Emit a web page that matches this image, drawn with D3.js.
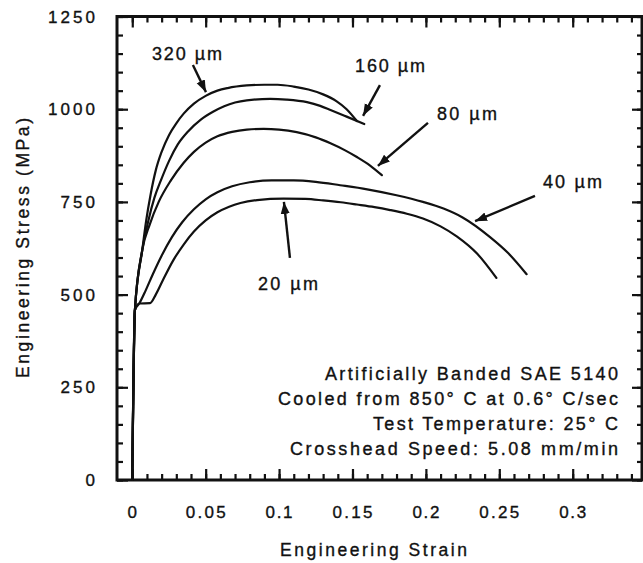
<!DOCTYPE html>
<html>
<head>
<meta charset="utf-8">
<script src="https://cdn.jsdelivr.net/npm/d3@7/dist/d3.min.js"></script>
<style>
  html, body { margin: 0; padding: 0; background: #fff; }
  svg { display: block; }
  text { font-family: "Liberation Sans", Arial, Helvetica, sans-serif; fill: #111; stroke: #111; stroke-width: 0.35px; }
</style>
</head>
<body>
<svg id="chart" width="643" height="563"></svg>
<script>
// ---------------- data ----------------
const strain320 = [0, 0.0018, 0.0068, 0.0095, 0.0125, 0.016, 0.020, 0.025, 0.030, 0.035, 0.042, 0.050, 0.058, 0.065, 0.078, 0.090, 0.099, 0.110, 0.120, 0.130, 0.139, 0.146, 0.153];
const stress320 = [0, 458, 620, 700, 770, 835, 885, 930, 962, 988, 1015, 1036, 1050, 1057, 1064, 1066, 1066, 1061, 1053, 1040, 1022, 1000, 968];

const strain160 = [0, 0.0018, 0.0068, 0.011, 0.015, 0.0195, 0.025, 0.031, 0.038, 0.0467, 0.055, 0.0626, 0.070, 0.078, 0.094, 0.105, 0.119, 0.128, 0.135, 0.146, 0.158];
const stress160 = [0, 458, 620, 700, 760, 808, 860, 905, 940, 972, 993, 1008, 1018, 1024, 1028, 1026, 1019, 1009, 998, 980, 960];

const strain80 = [0, 0.0018, 0.0068, 0.012, 0.018, 0.0263, 0.0349, 0.042, 0.050, 0.058, 0.068, 0.078, 0.0895, 0.100, 0.112, 0.125, 0.135, 0.145, 0.153, 0.162, 0.170];
const stress80 = [0, 458, 620, 690, 750, 808, 855, 885, 910, 927, 939, 945, 947, 945, 938, 924, 908, 889, 871, 848, 822];

const strain40 = [0, 0.0018, 0.0048, 0.009, 0.014, 0.020, 0.027, 0.034, 0.042, 0.050, 0.058, 0.068, 0.080, 0.095, 0.110, 0.125, 0.1416, 0.160, 0.180, 0.198, 0.212, 0.225, 0.2437, 0.256, 0.2686];
const stress40 = [0, 458, 476, 510, 555, 605, 655, 695, 730, 757, 776, 792, 803, 808, 808, 804, 795, 784, 768, 750, 732, 708, 655, 612, 555];

const strain20 = [0, 0.0018, 0.0048, 0.0121, 0.016, 0.021, 0.0283, 0.035, 0.042, 0.050, 0.058, 0.066, 0.0737, 0.085, 0.103, 0.118, 0.130, 0.142, 0.153, 0.165, 0.1757, 0.187, 0.198, 0.210, 0.221, 0.235, 0.248];
const stress20 = [0, 458, 476, 477, 500, 540, 595, 635, 670, 700, 722, 737, 747, 755, 759, 758, 754, 749, 743, 736, 728, 718, 705, 684, 657, 610, 545];

const xTickValues = [0, 0.05, 0.1, 0.15, 0.2, 0.25, 0.3];
const xTickLabels = ["0", "0.05", "0.1", "0.15", "0.2", "0.25", "0.3"];
const yTickValues = [0, 250, 500, 750, 1000, 1250];
const yTickLabels = ["0", "250", "500", "750", "1000", "1250"];

// annotation labels with arrows (positions in data units)
const annLabels   = ["320 µm", "160 µm", "80 µm", "40 µm", "20 µm"];
const annTextX    = [0.0134, 0.1517, 0.2075, 0.2797, 0.0856];
const annTextY    = [1133, 1100, 971, 787, 512];
const annFromX    = [0.0413, 0.1687, 0.2014, 0.2743, 0.1074];
const annFromY    = [1119, 1065, 963, 766, 599];
const annToX      = [0.0502, 0.1572, 0.1673, 0.2335, 0.1033];
const annToY      = [1046, 982, 847, 698, 750];
const annWidths   = [70, 70, 60, 59, 60];

const noteLines = [
  "Artificially Banded SAE 5140",
  "Cooled from 850° C at 0.6° C/sec",
  "Test Temperature: 25° C",
  "Crosshead Speed: 5.08 mm/min"
];
const noteWidths = [293, 340, 245, 328];

const xTitle = "Engineering Strain";
const yTitle = "Engineering Stress (MPa)";

// ---------------- layout ----------------
const L = 117, R = 642, T = 16.5, B = 480;
const svg = d3.select("#chart");
const x = d3.scaleLinear().domain([-0.0104, 0.3472]).range([L, R]);
const y = d3.scaleLinear().domain([0, 1250]).range([B, T]);
const ink = "#111";

// ---------------- ticks ----------------
const xMinor = d3.range(0, 35).map(i => i / 100);
const yMinor = d3.range(0, 26).map(i => i * 50);
const minorLen = 6, majorLen = 11;

function styleAxis(g) {
  g.select(".domain").remove();
  g.selectAll(".tick line").attr("stroke", ink).attr("stroke-width", 2.2);
  g.selectAll("text").remove();
}
svg.append("g").attr("transform", `translate(0,${B})`)
  .call(d3.axisBottom(x).tickValues(xMinor).tickSize(-minorLen)).call(styleAxis);
svg.append("g").attr("transform", `translate(0,${B})`)
  .call(d3.axisBottom(x).tickValues(xTickValues).tickSize(-majorLen)).call(styleAxis);
svg.append("g").attr("transform", `translate(0,${T})`)
  .call(d3.axisTop(x).tickValues(xMinor).tickSize(-minorLen)).call(styleAxis);
svg.append("g").attr("transform", `translate(0,${T})`)
  .call(d3.axisTop(x).tickValues(xTickValues).tickSize(-majorLen)).call(styleAxis);
svg.append("g").attr("transform", `translate(${L},0)`)
  .call(d3.axisLeft(y).tickValues(yMinor).tickSize(-minorLen)).call(styleAxis);
svg.append("g").attr("transform", `translate(${L},0)`)
  .call(d3.axisLeft(y).tickValues(yTickValues).tickSize(-majorLen)).call(styleAxis);
svg.append("g").attr("transform", `translate(${R},0)`)
  .call(d3.axisRight(y).tickValues(yMinor).tickSize(-minorLen + 1)).call(styleAxis);
svg.append("g").attr("transform", `translate(${R},0)`)
  .call(d3.axisRight(y).tickValues(yTickValues).tickSize(-majorLen + 1)).call(styleAxis);

// frame
svg.append("rect").attr("x", L).attr("y", T).attr("width", R - L).attr("height", B - T)
  .attr("fill", "none").attr("stroke", ink).attr("stroke-width", 3);

// tick labels
svg.append("g").selectAll("text").data(xTickValues).join("text")
  .attr("x", d => x(d)).attr("y", 518)
  .attr("text-anchor", "middle")
  .attr("font-size", 17)
  .each(function(d, i) {
    const lab = xTickLabels[i];
    const t = d3.select(this).text(lab);
    if (lab.length > 1) t.attr("textLength", lab.length === 4 ? 40 : 27).attr("lengthAdjust", "spacing");
  });
svg.append("g").selectAll("text").data(yTickValues).join("text")
  .attr("x", 95).attr("y", d => y(d)).attr("dy", "0.36em")
  .attr("text-anchor", "end")
  .attr("font-size", 17)
  .each(function(d, i) {
    const lab = yTickLabels[i];
    const t = d3.select(this).text(lab);
    if (lab.length > 1) t.attr("textLength", lab.length * 12.7 - 3.7).attr("lengthAdjust", "spacing");
  });

// axis titles
svg.append("text").attr("x", 373.5).attr("y", 556).attr("text-anchor", "middle")
  .attr("font-size", 17.5).attr("textLength", 187).attr("lengthAdjust", "spacing").text(xTitle);
svg.append("text").attr("transform", "translate(29,248) rotate(-90)").attr("text-anchor", "middle")
  .attr("font-size", 17.5).attr("textLength", 260).attr("lengthAdjust", "spacing").text(yTitle);

// ---------------- curves ----------------
const series = [
  [strain320, stress320], [strain160, stress160], [strain80, stress80],
  [strain40, stress40], [strain20, stress20]
];
const line = d3.line().x(d => x(d[0])).y(d => y(d[1])).curve(d3.curveMonotoneX);
svg.append("g").selectAll("path").data(series).join("path")
  .attr("d", s => line(s[0].map((v, i) => [v, s[1][i]])))
  .attr("fill", "none").attr("stroke", ink).attr("stroke-width", 2.2)
  .attr("stroke-linejoin", "round").attr("stroke-linecap", "round");

// ---------------- annotations ----------------
const defs = svg.append("defs");
defs.append("marker").attr("id", "ah").attr("viewBox", "0 -5 12 10")
  .attr("refX", 12).attr("refY", 0).attr("markerWidth", 12).attr("markerHeight", 10)
  .attr("markerUnits", "userSpaceOnUse").attr("orient", "auto")
  .append("path").attr("d", "M0,-4.5L12,0L0,4.5Z").attr("fill", ink);

const ann = svg.append("g");
annLabels.forEach((lab, i) => {
  ann.append("line")
    .attr("x1", x(annFromX[i])).attr("y1", y(annFromY[i]))
    .attr("x2", x(annToX[i])).attr("y2", y(annToY[i]))
    .attr("stroke", ink).attr("stroke-width", 2.4).attr("marker-end", "url(#ah)");
  ann.append("text").attr("x", x(annTextX[i])).attr("y", y(annTextY[i]))
    .attr("font-size", 18).attr("textLength", annWidths[i]).attr("lengthAdjust", "spacing")
    .text(lab);
});

// note block
svg.append("g").selectAll("text").data(noteLines).join("text")
  .attr("x", 618).attr("y", (d, i) => 380 + i * 25)
  .attr("text-anchor", "end").attr("font-size", 18)
  .attr("textLength", (d, i) => noteWidths[i]).attr("lengthAdjust", "spacing")
  .text(d => d);
</script>
</body>
</html>
